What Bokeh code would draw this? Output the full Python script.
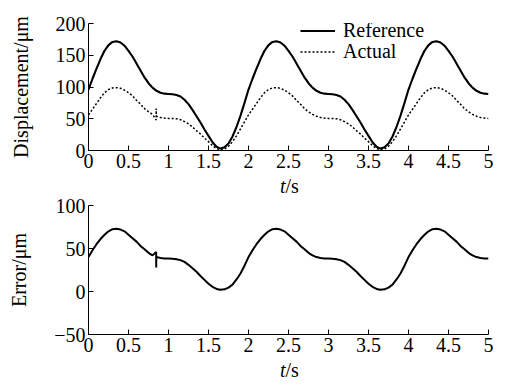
import numpy as np
from bokeh.plotting import figure
from bokeh.layouts import column
from bokeh.models import (FixedTicker, CustomJSTickFormatter, Legend, LegendItem,
                          Range1d, Div)
from bokeh.embed import file_html
from bokeh.resources import INLINE

# ---------------- data ----------------
time_s = [round(0.05 * i, 2) for i in range(101)]

reference_um = [
    96, 113, 129, 144, 157, 166, 171, 172, 170, 165, 157, 148, 137, 126, 115, 106, 99, 94, 91, 89.5,
    89, 88.5, 87.5, 85, 80, 73, 64, 54, 44, 33, 23, 13, 6, 3, 5, 11, 22, 37, 55, 75,
    96, 113, 129, 144, 157, 166, 171, 172, 170, 165, 157, 148, 137, 126, 115, 106, 99, 94, 91, 89.5,
    89, 88.5, 87.5, 85, 80, 73, 64, 54, 44, 33, 23, 13, 6, 3, 5, 11, 22, 37, 55, 75,
    96, 113, 129, 144, 157, 166, 171, 172, 170, 165, 157, 148, 137, 126, 115, 106, 99, 94, 91, 89.5,
    89,
]

actual_um = [
    56, 65, 74, 83, 91, 96, 98.5, 99, 98, 95, 91, 86, 79, 73, 66, 61, 57, 54, 52, 51,
    50.5, 50.5, 50, 48.5, 45.5, 42, 37, 31, 26, 19.5, 14, 7.5, 3, 1, 2.5, 6.5, 14, 23, 34, 45,
    56, 65, 74, 83, 91, 96, 98.5, 99, 98, 95, 91, 86, 79, 73, 66, 61, 57, 54, 52, 51,
    50.5, 50.5, 50, 48.5, 45.5, 42, 37, 31, 26, 19.5, 14, 7.5, 3, 1, 2.5, 6.5, 14, 23, 34, 45,
    56, 65, 74, 83, 91, 96, 98.5, 99, 98, 95, 91, 86, 79, 73, 66, 61, 57, 54, 52, 51,
    50.5,
]

error_um = [
    40, 48, 55, 61, 66, 70, 72.5, 73, 72, 70, 66, 62, 58, 53, 49, 45, 42, 40, 39, 38.5,
    38.5, 38, 37.5, 36.5, 34.5, 31, 27, 23, 18, 13.5, 9, 5.5, 3, 2, 2.5, 4.5, 8, 14, 21, 30,
    40, 48, 55, 61, 66, 70, 72.5, 73, 72, 70, 66, 62, 58, 53, 49, 45, 42, 40, 39, 38.5,
    38.5, 38, 37.5, 36.5, 34.5, 31, 27, 23, 18, 13.5, 9, 5.5, 3, 2, 2.5, 4.5, 8, 14, 21, 30,
    40, 48, 55, 61, 66, 70, 72.5, 73, 72, 70, 66, 62, 58, 53, 49, 45, 42, 40, 39, 38.5,
    38.5,
]

# short measurement glitch near t = 0.85 s
glitch_time = [0.846, 0.8465, 0.847]
glitch_actual = [48, 66, 54]
glitch_error = [46, 28, 40]

x_ticks = [0, 0.5, 1, 1.5, 2, 2.5, 3, 3.5, 4, 4.5, 5]
disp_ticks = [0, 50, 100, 150, 200]
err_ticks = [-50, 0, 50, 100]

# merge glitch samples into the measured series
t_all = np.array(time_s + glitch_time)
order = np.argsort(t_all, kind="stable")
t_meas = t_all[order]
act_meas = np.array(actual_um + glitch_actual)[order]
err_meas = np.array(error_um + glitch_error)[order]

FONT = "Liberation Serif"
FS = "20px"

fmt_code = "var s = tick.toString(); return s.replace('-', '\\u2212');"


def style(p, yticks, ylabel):
    p.xaxis.ticker = FixedTicker(ticks=x_ticks)
    p.yaxis.ticker = FixedTicker(ticks=yticks)
    for ax in (p.xaxis[0], p.yaxis[0]):
        ax.formatter = CustomJSTickFormatter(code=fmt_code)
        ax.axis_line_color = "black"
        ax.axis_line_width = 1
        ax.major_tick_in = 5
        ax.major_tick_out = 0
        ax.major_tick_line_color = "black"
        ax.minor_tick_line_color = None
        ax.major_label_text_font = FONT
        ax.major_label_text_font_size = FS
        ax.major_label_text_color = "black"
        ax.major_label_standoff = 3
    p.yaxis.axis_label = ylabel
    p.yaxis.axis_label_text_font = FONT
    p.yaxis.axis_label_text_font_size = FS
    p.yaxis.axis_label_text_font_style = "normal"
    p.yaxis.axis_label_text_color = "black"
    p.yaxis.axis_label_standoff = 21
    p.xgrid.visible = False
    p.ygrid.visible = False
    p.outline_line_color = None
    p.background_fill_color = "white"
    p.border_fill_color = "white"


def xlabel_div():
    html = ('<div style="position:relative; left:280px; top:0px; '
            'font-family:\'Liberation Serif\'; font-size:20px; line-height:20px; '
            'color:black; white-space:nowrap;"><i>t</i>/s</div>')
    return Div(text=html, width=506, height=20, margin=0)


def make_legend(label, renderer, vy):
    lg = Legend(items=[LegendItem(label=label, renderers=[renderer])],
                location=(212, vy))
    lg.background_fill_alpha = 0
    lg.border_line_color = None
    lg.padding = 0
    lg.margin = 0
    lg.spacing = 0
    lg.label_height = 21
    lg.glyph_height = 21
    lg.glyph_width = 35
    lg.label_standoff = 8
    lg.label_text_font = FONT
    lg.label_text_font_size = FS
    lg.label_text_color = "black"
    return lg


# ---------------- top: displacement ----------------
p1 = figure(width=506, height=176, output_backend="svg", toolbar_location=None,
            x_range=Range1d(0, 5), y_range=Range1d(0, 200),
            min_border_left=88, min_border_right=18,
            min_border_top=23, min_border_bottom=26)
style(p1, disp_ticks, "Displacement/\u03bcm")
r_ref = p1.line(time_s, reference_um, line_color="black", line_width=2.1)
r_act = p1.line(t_meas, act_meas, line_color="black", line_width=1.5,
                line_dash="2 2")
p1.add_layout(make_legend("Reference", r_ref, 108))
p1.add_layout(make_legend("Actual", r_act, 87))

# ---------------- bottom: error ----------------
p2 = figure(width=506, height=164, output_backend="svg", toolbar_location=None,
            x_range=Range1d(0, 5), y_range=Range1d(-50, 100),
            min_border_left=88, min_border_right=18,
            min_border_top=9, min_border_bottom=26)
style(p2, err_ticks, "Error/\u03bcm")
p2.line(t_meas, err_meas, line_color="black", line_width=2)

layout = column(p1, xlabel_div(), p2, xlabel_div(), spacing=0)
open("out.html", "w", encoding="utf-8").write(file_html(layout, INLINE))
